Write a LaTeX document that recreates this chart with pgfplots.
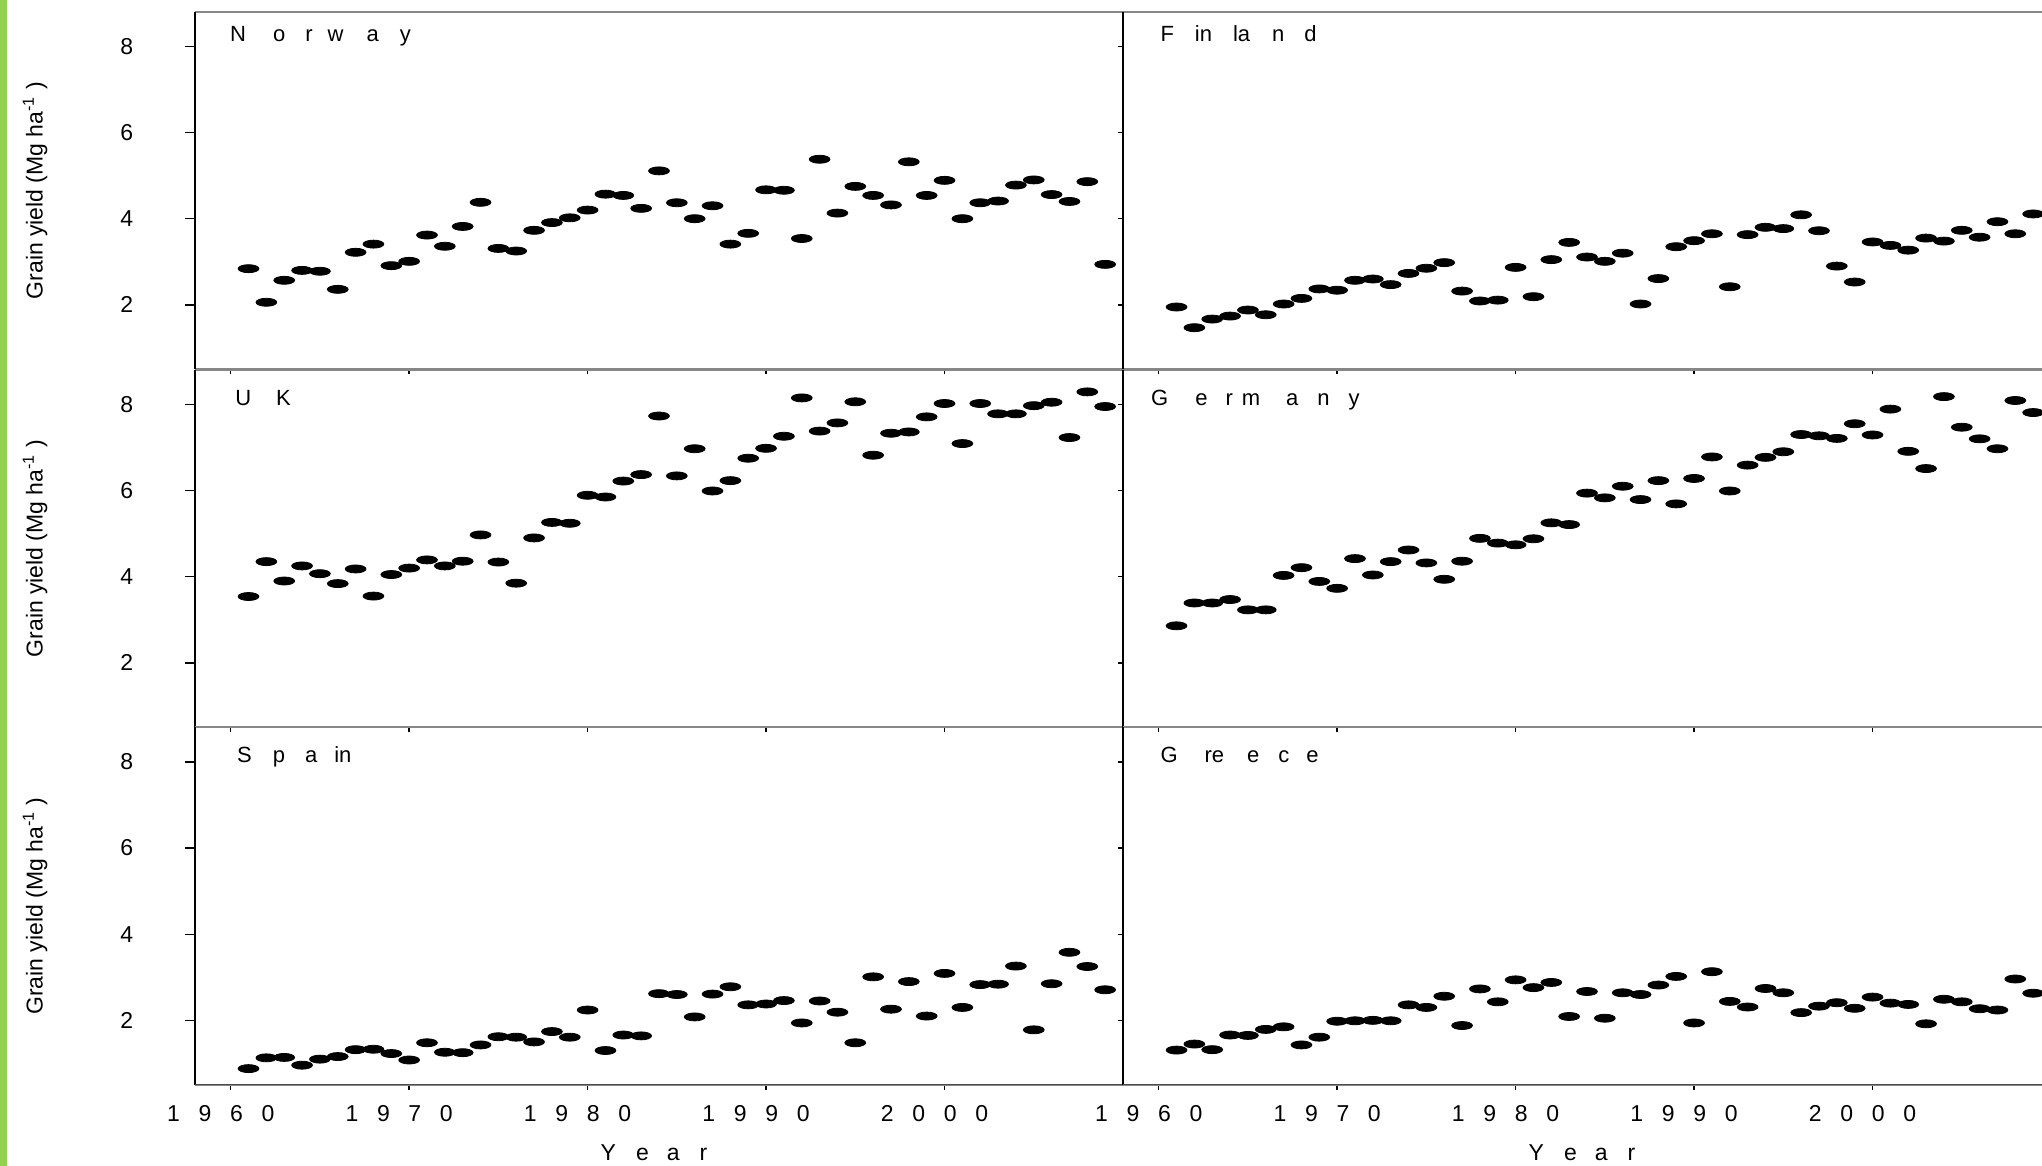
\documentclass[border=0pt]{standalone}
\usepackage{pgfplots}
\pgfplotsset{compat=1.18}
\usepackage{pgfplotstable}
\usepackage{fontspec}
\setmainfont{Liberation Sans}
\definecolor{barGreen}{RGB}{146,208,80}
\definecolor{frameGray}{RGB}{135,135,135}

\pgfplotstableread{
year Norway Finland UK Germany Spain Greece
1961 2.84 1.95 3.54 2.86 0.88 1.31
1962 2.06 1.47 4.35 3.39 1.13 1.45
1963 2.57 1.67 3.90 3.39 1.14 1.32
1964 2.80 1.74 4.25 3.47 0.96 1.66
1965 2.78 1.88 4.07 3.23 1.10 1.65
1966 2.36 1.77 3.84 3.23 1.16 1.79
1967 3.22 2.02 4.18 4.03 1.32 1.85
1968 3.41 2.15 3.55 4.21 1.33 1.43
1969 2.91 2.37 4.05 3.89 1.23 1.61
1970 3.01 2.34 4.20 3.73 1.08 1.98
1971 3.62 2.57 4.39 4.42 1.48 1.99
1972 3.36 2.60 4.25 4.04 1.26 2.00
1973 3.82 2.47 4.36 4.35 1.25 1.99
1974 4.38 2.73 4.97 4.62 1.43 2.36
1975 3.31 2.85 4.34 4.32 1.62 2.30
1976 3.25 2.98 3.85 3.94 1.61 2.56
1977 3.73 2.32 4.90 4.36 1.50 1.88
1978 3.91 2.09 5.26 4.89 1.74 2.73
1979 4.02 2.11 5.24 4.78 1.61 2.43
1980 4.20 2.87 5.89 4.74 2.24 2.94
1981 4.57 2.19 5.85 4.88 1.30 2.76
1982 4.54 3.05 6.22 5.25 1.66 2.88
1983 4.24 3.45 6.37 5.21 1.64 2.09
1984 5.11 3.11 7.73 5.94 2.62 2.67
1985 4.37 3.01 6.34 5.83 2.60 2.05
1986 4.00 3.20 6.97 6.10 2.08 2.64
1987 4.30 2.02 5.99 5.79 2.61 2.60
1988 3.41 2.61 6.23 6.23 2.78 2.82
1989 3.66 3.35 6.75 5.69 2.36 3.02
1990 4.67 3.49 6.98 6.28 2.38 1.94
1991 4.66 3.65 7.26 6.78 2.46 3.13
1992 3.54 2.42 8.15 5.99 1.94 2.44
1993 5.38 3.63 7.38 6.59 2.45 2.31
1994 4.13 3.80 7.57 6.77 2.19 2.74
1995 4.75 3.77 8.06 6.90 1.48 2.64
1996 4.54 4.09 6.82 7.30 3.01 2.18
1997 4.32 3.72 7.33 7.27 2.26 2.33
1998 5.32 2.90 7.36 7.21 2.90 2.41
1999 4.54 2.53 7.71 7.55 2.10 2.28
2000 4.89 3.46 8.02 7.29 3.09 2.54
2001 4.00 3.38 7.09 7.89 2.30 2.40
2002 4.37 3.27 8.02 6.91 2.83 2.37
2003 4.41 3.55 7.78 6.51 2.84 1.92
2004 4.78 3.48 7.78 8.18 3.26 2.49
2005 4.90 3.73 7.97 7.47 1.78 2.43
2006 4.56 3.57 8.05 7.20 2.85 2.27
2007 4.40 3.93 7.23 6.97 3.58 2.24
2008 4.86 3.65 8.29 8.09 3.25 2.96
2009 2.94 4.11 7.95 7.81 2.71 2.63
}\data

\newcommand\yr[4]{#1\kern9.35pt #2\kern9.35pt #3\kern9.35pt #4}
\newcommand\fs{\fontsize{11.5}{13}\selectfont}
\newcommand\fn{\fontsize{11}{13}\selectfont}

\pgfplotsset{
  panel/.style={
    scale only axis, width=464pt, height=178.8pt,
    xmin=1958, xmax=2010, ymin=0.5, ymax=8.8,
    separate axis lines,
    x axis line style={frameGray, line width=1pt},
    y axis line style={black, line width=1pt},
    xtick={1960,1970,1980,1990,2000},
    ytick={2,4,6,8},
    xtick pos=left, ytick pos=left,
    tick align=outside,
    major tick length=2.5pt,
    tick style={black, line width=0.7pt},
    minor tick num=0,
    xticklabels={}, yticklabels={},
    tick label style={font=\fs, text=black},
    yticklabel style={anchor=center, xshift=-31.65pt},
    xticklabel style={anchor=center, yshift=-11.75pt, xshift=-5pt},
    every axis y label/.style={at={(axis description cs:-0.1724,0.5)}, rotate=90, anchor=center, font=\fs},
    every axis x label/.style={at={(axis description cs:0.4946,-0.190)}, anchor=center, font=\fs},
  },
  leftcol/.style={yticklabels={2,4,6,8}, ytick style={/pgfplots/major tick length=5pt},
    ylabel={Grain yield (Mg ha\textsuperscript{-1} )}},
  bottomrow/.style={xticklabels={\yr1960,\yr1970,\yr1980,\yr1990,\yr2000},
    xlabel={Y\kern10pt e\kern9pt a\kern10pt r}},
  dots/.style={only marks, mark=*, mark size=2pt, mark options={xscale=2.6, draw=none, fill=black}},
}

\begin{document}
\begin{tikzpicture}
\useasboundingbox (0pt,0pt) rectangle (1021pt,583pt);
\clip (0pt,0pt) rectangle (1021pt,583pt);
\fill[white] (0pt,0pt) rectangle (1021pt,583pt);
\fill[barGreen] (0pt,0pt) rectangle (3.5pt,583pt);

% Row 1
\begin{axis}[panel, leftcol, at={(97.5pt,398.25pt)}, anchor=south west]
  \addplot[dots] table[x=year, y=Norway] {\data};
  \node[anchor=base west, inner sep=0, font=\fn] at (rel axis cs:0.0375,0.916)
    {N\kern13.5pt o\kern10pt r\kern7.5pt w\kern11.5pt a\kern10.5pt y};
\end{axis}
% Row 2
\begin{axis}[panel, leftcol, at={(97.5pt,219.25pt)}, anchor=south west]
  \addplot[dots] table[x=year, y=UK] {\data};
  \node[anchor=base west, inner sep=0, font=\fn] at (rel axis cs:0.043,0.9007)
    {U\kern12.5pt K};
\end{axis}
% Row 3
\begin{axis}[panel, leftcol, bottomrow, at={(97.5pt,40.5pt)}, anchor=south west]
  \addplot[dots] table[x=year, y=Spain] {\data};
  \node[anchor=base west, inner sep=0, font=\fn] at (rel axis cs:0.045,0.9007)
    {S\kern10.5pt p\kern10pt a\kern8.5pt in};
  \draw[black!70, line width=1pt] (rel axis cs:0,0) -- (rel axis cs:1,0);
\end{axis}

% Right column
\begin{axis}[panel, at={(561.5pt,398.25pt)}, anchor=south west]
  \addplot[dots] table[x=year, y=Finland] {\data};
  \node[anchor=base west, inner sep=0, font=\fn] at (rel axis cs:0.040,0.916)
    {F\kern10.5pt in\kern10.5pt la\kern11pt n\kern10pt d};
\end{axis}
\begin{axis}[panel, at={(561.5pt,219.25pt)}, anchor=south west]
  \addplot[dots] table[x=year, y=Germany] {\data};
  \node[anchor=base west, inner sep=0, font=\fn] at (rel axis cs:0.030,0.9007)
    {G\kern13.5pt e\kern9pt r\kern4.5pt m\kern13pt a\kern9.5pt n\kern9.5pt y};
\end{axis}
\begin{axis}[panel, bottomrow, at={(561.5pt,40.5pt)}, anchor=south west]
  \addplot[dots] table[x=year, y=Greece] {\data};
  \node[anchor=base west, inner sep=0, font=\fn] at (rel axis cs:0.040,0.9007)
    {G\kern13.5pt re\kern11.5pt e\kern9.5pt c\kern8.5pt e};
  \draw[black!70, line width=1pt] (rel axis cs:0,0) -- (rel axis cs:1,0);
\end{axis}
\end{tikzpicture}
\end{document}
